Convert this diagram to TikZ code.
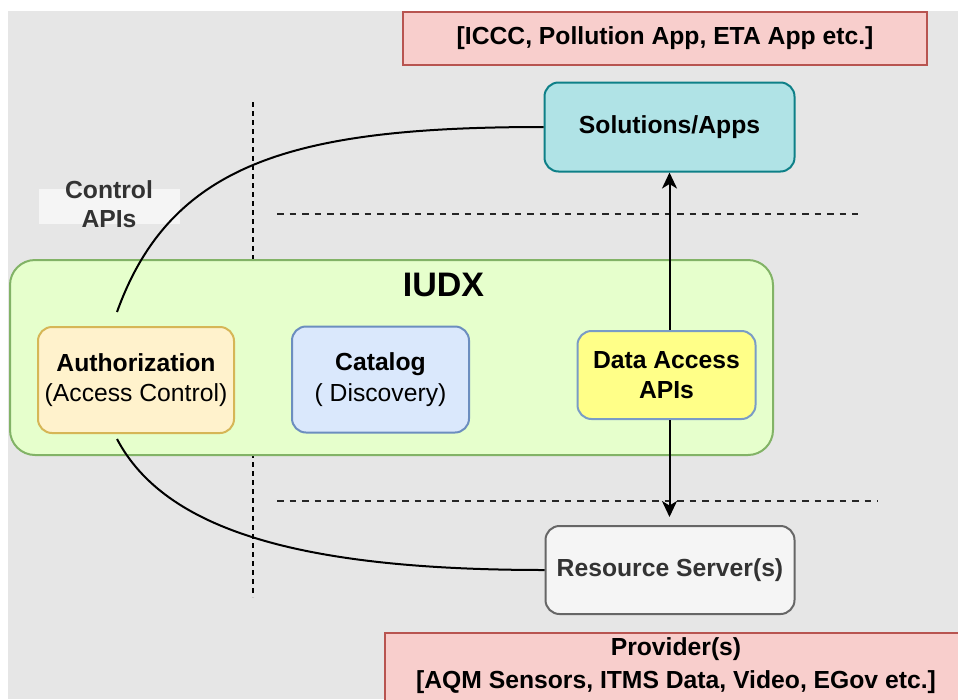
\documentclass[tikz,border=0pt]{standalone}
\usepackage{fontspec}
\setmainfont{Liberation Sans}
\usetikzlibrary{arrows.meta}
\definecolor{bggray}{HTML}{E6E6E6}
\definecolor{ctrlfill}{HTML}{F5F5F5}
\definecolor{txtgray}{HTML}{333333}
\definecolor{iudxfill}{HTML}{E6FFCC}
\definecolor{iudxdraw}{HTML}{82B366}
\definecolor{authfill}{HTML}{FFF2CC}
\definecolor{authdraw}{HTML}{D6B656}
\definecolor{catfill}{HTML}{DAE8FC}
\definecolor{catdraw}{HTML}{6C8EBF}
\definecolor{dafill}{HTML}{FFFF88}
\definecolor{dadraw}{HTML}{7A9CC6}
\definecolor{solfill}{HTML}{B0E3E6}
\definecolor{soldraw}{HTML}{0E8088}
\definecolor{rsfill}{HTML}{F5F5F5}
\definecolor{rsdraw}{HTML}{666666}
\definecolor{pinkfill}{HTML}{F8CECC}
\definecolor{pinkdraw}{HTML}{B85450}
\tikzset{
  lbl/.style={font=\fontsize{24.7}{30.5}\selectfont, align=center, inner sep=0pt},
  rbox/.style={draw, line width=2pt, rounded corners=14pt, inner sep=0pt,
    font=\fontsize{24.7}{30.5}\selectfont, align=center},
  sbox/.style={draw, line width=2pt, inner sep=0pt},
  curve/.style={line width=2pt, black},
  arr/.style={line width=2pt, black, -{Stealth[length=16pt,width=15pt,inset=4.5pt]}},
  vdash/.style={line width=2pt, black, dash pattern=on 5pt off 4pt},
  hdash/.style={line width=2pt, black!85, dash pattern=on 6.5pt off 6pt}
}
\begin{document}
\begin{tikzpicture}[x=1pt,y=-1pt]
\useasboundingbox (0,0) rectangle (958,699);
\clip (0,0) rectangle (958,699);
\fill[bggray] (8,11) rectangle (958,699);

% top apps banner
\node[sbox, fill=pinkfill, draw=pinkdraw, minimum width=524, minimum height=53] (apps) at (665,38.5) {};
\node[lbl, font=\bfseries\fontsize{24.7}{30.5}\selectfont] (appstxt) at (665,38) {{[}ICCC, Pollution App, ETA App etc.{]}};

% separators
\coordinate (v1) at (253,102);
\coordinate (v2) at (253,597);
\draw[vdash] (v1) -- (v2);
\coordinate (h1a) at (277,214);
\coordinate (h1b) at (858,214);
\draw[hdash] (h1a) -- (h1b);
\coordinate (h2a) at (277,500.5);
\coordinate (h2b) at (878,500.5);
\draw[hdash] (h2a) -- (h2b);

% control APIs label
\node[fill=ctrlfill, minimum width=141, minimum height=35, inner sep=0pt] (ctrlbox) at (109.5,206.5) {};
\node[lbl, text=txtgray, font=\bfseries\fontsize{24.7}{29}\selectfont] (ctrl) at (109,204.5) {Control\\APIs};

% IUDX container
\node[draw=iudxdraw, fill=iudxfill, line width=2pt, rounded corners=25pt, minimum width=763, minimum height=195, inner sep=0pt] (iudx) at (391.5,357.5) {};
\node[lbl, font=\bfseries\fontsize{34}{40}\selectfont] (iudxt) at (443.5,285) {IUDX};

% inner components
\node[rbox, fill=authfill, draw=authdraw, minimum width=196, minimum height=106] (auth) at (136,380)
  {\textbf{Authorization}\\(Access Control)};
\node[rbox, fill=catfill, draw=catdraw, minimum width=177, minimum height=106] (cat) at (380.5,379.5)
  {\textbf{Catalog}\\( Discovery)};
\node[rbox, fill=dafill, draw=dadraw, minimum width=178, minimum height=88] (da) at (666.5,375)
  {\textbf{Data Access}\\\textbf{APIs}};

% solutions / resource server
\node[rbox, fill=solfill, draw=soldraw, minimum width=250, minimum height=89] (sol) at (669.5,127)
  {\textbf{Solutions/Apps}};
\node[rbox, fill=rsfill, draw=rsdraw, text=txtgray, minimum width=249, minimum height=88] (rs) at (670,570)
  {\textbf{Resource Server(s)}};

% providers banner
\node[sbox, fill=pinkfill, draw=pinkdraw, minimum width=584, minimum height=80, anchor=north west] (prov) at (384,632) {};
\node[lbl, font=\bfseries\fontsize{24.7}{33}\selectfont] (provtxt) at (676,665.5)
  {Provider(s)\\{[}AQM Sensors, ITMS Data, Video, EGov etc.{]}};

% connectors
\coordinate (c1s) at (117,312);
\coordinate (c2s) at (117,439);
\draw[curve] (c1s) .. controls (171,162) and (295,127) .. (sol.west);
\draw[curve] (c2s) .. controls (165,530) and (300,570) .. (rs.west);
\draw[arr] (da.north -| sol.south) -- (sol.south);
\draw[arr, shorten >=8pt] (da.south -| sol.south) -- (rs.north -| sol.south);
\end{tikzpicture}
\end{document}
